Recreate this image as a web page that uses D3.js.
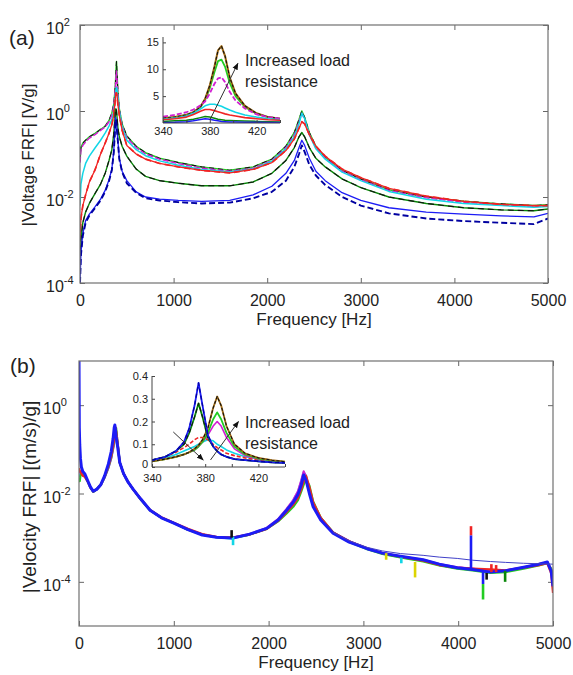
<!DOCTYPE html>
<html>
<head>
<meta charset="utf-8">
<script src="https://cdnjs.cloudflare.com/ajax/libs/d3/7.8.5/d3.min.js"></script>
<style>
  body { margin: 0; background: #fff; }
  svg text { font-family: "Liberation Sans", Arial, sans-serif; fill: #222; }
</style>
</head>
<body>
<script>
const Width = 573;
const Height = 675;

const xTicks = [0, 1000, 2000, 3000, 4000, 5000];
const insetTicks = [340, 360, 380, 400, 420, 440];
const insetLabels = [340, 380, 420];

// ---- panel (a): |Voltage FRF| [V/g], values are log10
const freqA = [0, 10, 30, 60, 100, 160, 220, 270, 310, 340,
               360, 372, 380, 386, 390, 396, 405, 420, 450, 500,
               600, 700, 850, 1050, 1300, 1600, 1850, 2050, 2200, 2290,
               2340, 2370, 2400, 2450, 2520, 2620, 2800, 3000, 3300, 3700,
               4100, 4500, 4850, 5000];
const topA = [-1.15, -0.85, -0.75, -0.68, -0.6, -0.52, -0.43, -0.35, -0.22, -0.05,
              0.15, 0.42, 0.7, 1.0, 1.15, 0.85, 0.45, 0.05, -0.3, -0.58,
              -0.82, -0.97, -1.1, -1.2, -1.3, -1.38, -1.3, -1.12, -0.82, -0.5,
              -0.2, 0.0, -0.15, -0.5, -0.82, -1.08, -1.38, -1.58, -1.83, -2.0,
              -2.1, -2.16, -2.2, -2.18];
const magentaA = [-1.2, -0.9, -0.8, -0.72, -0.63, -0.55, -0.45, -0.37, -0.25, -0.1,
                  0.1, 0.35, 0.6, 0.85, 0.93, 0.7, 0.35, 0.0, -0.35, -0.62,
                  -0.85, -1.0, -1.12, -1.22, -1.33, -1.4, -1.33, -1.15, -0.85, -0.55,
                  -0.25, -0.05, -0.2, -0.55, -0.85, -1.1, -1.4, -1.6, -1.85, -2.02,
                  -2.12, -2.18, -2.22, -2.2];
const cyanA = [-2.2, -1.7, -1.45, -1.22, -1.05, -0.86, -0.68, -0.51, -0.35, -0.2,
               -0.02, 0.2, 0.42, 0.52, 0.55, 0.5, 0.3, 0.0, -0.38, -0.68,
               -0.9, -1.04, -1.16, -1.26, -1.36, -1.42, -1.35, -1.17, -0.88, -0.6,
               -0.3, -0.05, -0.18, -0.55, -0.88, -1.12, -1.42, -1.62, -1.87, -2.05,
               -2.15, -2.2, -2.24, -2.22];
const redA = [-3.0, -2.5, -2.2, -1.95, -1.65, -1.37, -1.0, -0.74, -0.52, -0.32,
              -0.1, 0.15, 0.35, 0.42, 0.42, 0.35, 0.15, -0.1, -0.45, -0.8,
              -1.0, -1.12, -1.22, -1.3, -1.38, -1.44, -1.36, -1.2, -0.92, -0.65,
              -0.4, -0.25, -0.3, -0.55, -0.82, -1.05, -1.35, -1.55, -1.8, -1.98,
              -2.1, -2.17, -2.2, -2.2];
const greenA = [-3.5, -3.0, -2.6, -2.35, -2.15, -1.92, -1.7, -1.44, -1.15, -0.9,
                -0.55, -0.2, 0.05, 0.05, 0.0, -0.15, -0.4, -0.6, -0.82, -1.05,
                -1.35, -1.52, -1.62, -1.68, -1.74, -1.74, -1.65, -1.45, -1.15, -0.85,
                -0.6, -0.5, -0.6, -0.85, -1.1, -1.3, -1.58, -1.78, -2.0, -2.15,
                -2.25, -2.3, -2.32, -2.28];
const blueA = [-4.0, -3.3, -2.85, -2.55, -2.4, -2.23, -2.05, -1.84, -1.6, -1.35,
               -0.95, -0.5, -0.15, -0.2, -0.3, -0.45, -0.7, -1.1, -1.4, -1.62,
               -1.88, -2.0, -2.05, -2.08, -2.1, -2.08, -1.95, -1.75, -1.45, -1.15,
               -0.85, -0.68, -0.8, -1.1, -1.4, -1.62, -1.9, -2.08, -2.25, -2.35,
               -2.4, -2.44, -2.46, -2.38];
const blueDashA = [-4.0, -3.35, -2.9, -2.6, -2.43, -2.26, -2.08, -1.87, -1.63, -1.38,
                   -0.98, -0.55, -0.2, -0.22, -0.32, -0.48, -0.72, -1.12, -1.42, -1.68,
                   -1.9, -2.03, -2.08, -2.12, -2.15, -2.13, -2.03, -1.88, -1.62, -1.3,
                   -1.0, -0.8, -0.95, -1.25, -1.5, -1.72, -2.0, -2.2, -2.38, -2.5,
                   -2.56, -2.6, -2.63, -2.5];

// inset (a), linear |V/g|
const freqIA = [340, 350, 360, 366, 372, 376, 380, 384, 387, 390, 393, 397, 402, 410, 420, 430, 440];
const iaTop = [0.9, 1.1, 1.5, 2.0, 3.0, 4.5, 7.0, 10.5, 13.5, 14.3, 12.5, 8.5, 5.5, 3.2, 1.8, 1.1, 0.8];
const iaLime = [0.9, 1.1, 1.5, 2.0, 3.0, 4.3, 6.5, 9.5, 11.5, 11.8, 10.5, 7.5, 5.0, 3.0, 1.7, 1.1, 0.8];
const iaMagenta = [1.2, 1.5, 2.0, 2.5, 3.3, 4.0, 5.5, 7.3, 8.3, 8.5, 7.6, 5.8, 4.2, 2.7, 1.6, 1.1, 0.8];
const iaCyan = [0.7, 0.9, 1.3, 1.8, 2.6, 3.2, 3.5, 3.5, 3.3, 3.1, 2.8, 2.4, 2.0, 1.5, 1.1, 0.8, 0.6];
const iaRed = [0.6, 0.8, 1.1, 1.6, 2.2, 2.5, 2.5, 2.3, 2.1, 1.9, 1.7, 1.5, 1.3, 1.0, 0.8, 0.6, 0.5];
const iaGreen = [0.3, 0.4, 0.5, 0.7, 1.0, 1.2, 1.1, 0.9, 0.7, 0.6, 0.5, 0.45, 0.4, 0.35, 0.3, 0.25, 0.2];
const iaBlue = [0.1, 0.15, 0.25, 0.4, 0.65, 0.8, 0.7, 0.5, 0.4, 0.3, 0.25, 0.2, 0.17, 0.15, 0.12, 0.1, 0.1];

// ---- panel (b): |Velocity FRF| [(m/s)/g], values are log10
const freqB = [0, 3, 8, 15, 25, 40, 60, 90, 120, 150,
               190, 230, 270, 310, 340, 360, 372, 378, 384, 392,
               405, 430, 470, 520, 570, 650, 750, 870, 1000, 1150,
               1300, 1450, 1620, 1800, 1980, 2100, 2190, 2260, 2310, 2345,
               2370, 2395, 2430, 2470, 2550, 2680, 2850, 3040, 3200, 3390,
               3630, 3800, 3990, 4150, 4340, 4500, 4690, 4850, 4940, 4980,
               5000];
const blueB = [1.0, -0.5, -0.9, -1.2, -1.4, -1.5, -1.55, -1.7, -1.85, -1.95,
               -1.9, -1.8, -1.6, -1.33, -1.05, -0.75, -0.5, -0.45, -0.55, -0.72,
               -0.9, -1.3, -1.55, -1.75, -1.9, -2.12, -2.38, -2.55, -2.67, -2.82,
               -2.94, -2.99, -3.01, -2.92, -2.79, -2.6, -2.38, -2.2, -2.02, -1.8,
               -1.58, -1.7, -2.0, -2.3, -2.6, -2.9, -3.1, -3.25, -3.35, -3.42,
               -3.5, -3.6, -3.68, -3.72, -3.78, -3.75, -3.67, -3.6, -3.55, -3.75,
               -4.1];
const redB = [-1.45, -1.45, -1.5, -1.5, -1.55, -1.6, -1.62, -1.72, -1.86, -1.95,
              -1.9, -1.8, -1.62, -1.38, -1.15, -0.92, -0.75, -0.62, -0.5, -0.6,
              -0.85, -1.3, -1.55, -1.75, -1.9, -2.12, -2.37, -2.54, -2.66, -2.8,
              -2.92, -2.98, -3.0, -2.93, -2.8, -2.62, -2.42, -2.25, -2.1, -1.9,
              -1.72, -1.6, -1.85, -2.2, -2.55, -2.88, -3.08, -3.24, -3.35, -3.43,
              -3.52, -3.62, -3.68, -3.7, -3.72, -3.74, -3.68, -3.62, -3.58, -3.8,
              -4.25];
const limeB = [-1.7, -1.7, -1.72, -1.6, -1.55, -1.58, -1.6, -1.72, -1.86, -1.96,
               -1.9, -1.8, -1.63, -1.4, -1.17, -0.95, -0.78, -0.65, -0.55, -0.52,
               -0.82, -1.3, -1.55, -1.75, -1.9, -2.13, -2.38, -2.55, -2.67, -2.82,
               -2.93, -2.99, -3.0, -2.93, -2.8, -2.63, -2.45, -2.3, -2.15, -1.95,
               -1.8, -1.68, -1.82, -2.18, -2.55, -2.88, -3.1, -3.26, -3.37, -3.45,
               -3.54, -3.63, -3.7, -3.74, -3.8, -3.78, -3.7, -3.63, -3.58, -3.7,
               -3.9];
const magentaB = [-1.5, -1.5, -1.52, -1.5, -1.52, -1.55, -1.6, -1.72, -1.86, -1.96,
                  -1.9, -1.8, -1.64, -1.42, -1.2, -0.98, -0.82, -0.7, -0.62, -0.58,
                  -0.8, -1.3, -1.55, -1.75, -1.9, -2.13, -2.38, -2.55, -2.67, -2.82,
                  -2.93, -2.99, -3.0, -2.92, -2.78, -2.58, -2.35, -2.15, -1.95, -1.7,
                  -1.5, -1.62, -1.95, -2.25, -2.57, -2.88, -3.08, -3.25, -3.35, -3.42,
                  -3.5, -3.6, -3.67, -3.7, -3.76, -3.74, -3.67, -3.6, -3.56, -3.7,
                  -3.95];
const cyanB = [-1.6, -1.6, -1.6, -1.55, -1.52, -1.55, -1.6, -1.72, -1.86, -1.96,
               -1.9, -1.8, -1.64, -1.42, -1.2, -0.98, -0.85, -0.78, -0.72, -0.7,
               -0.85, -1.3, -1.55, -1.75, -1.9, -2.13, -2.38, -2.55, -2.67, -2.82,
               -2.93, -2.99, -3.02, -2.93, -2.79, -2.59, -2.36, -2.16, -1.96, -1.72,
               -1.52, -1.6, -1.92, -2.24, -2.56, -2.88, -3.08, -3.25, -3.36, -3.44,
               -3.52, -3.62, -3.69, -3.72, -3.78, -3.76, -3.68, -3.61, -3.57, -3.72,
               -4.0];
// model curve that stays above the measured data at high frequency
const freqModelB = [2680, 2850, 3040, 3200, 3390, 3630, 3800, 3990, 4150, 4340, 4500, 4690, 4850, 5000];
const modelB = [-2.88, -3.07, -3.22, -3.3, -3.36, -3.4, -3.44, -3.47, -3.51, -3.54, -3.56, -3.58, -3.59, -3.6];

// short vertical glitches in the measured data
const spikeFreq = [4135, 4135, 4262, 4262, 3545, 3400, 1625, 1610, 3240, 4495, 4350, 4400, 4300];
const spikeLo = [-2.95, -3.72, -4.05, -4.4, -3.9, -3.58, -3.17, -3.0, -3.5, -4.0, -3.78, -3.78, -3.95];
const spikeHi = [-2.74, -2.95, -3.78, -4.05, -3.55, -3.45, -2.98, -2.83, -3.35, -3.75, -3.6, -3.62, -3.8];
const spikeKey = ['red', 'blue', 'blue', 'lime', 'yellow', 'cyan', 'cyan', 'black', 'yellow', 'green', 'red', 'red', 'black'];

// inset (b), linear |(m/s)/g|
const freqIB = [340, 350, 358, 364, 368, 372, 375, 378, 382, 386, 389, 392, 396, 402, 410, 420, 430, 440];
const ibBlue = [0.03, 0.045, 0.07, 0.11, 0.17, 0.27, 0.37, 0.27, 0.14, 0.09, 0.07, 0.055, 0.045, 0.035, 0.03, 0.025, 0.02, 0.018];
const ibGreen = [0.03, 0.045, 0.07, 0.1, 0.15, 0.22, 0.28, 0.22, 0.13, 0.09, 0.07, 0.055, 0.045, 0.035, 0.03, 0.025, 0.02, 0.018];
const ibRed = [0.03, 0.045, 0.065, 0.085, 0.1, 0.12, 0.13, 0.13, 0.12, 0.1, 0.085, 0.075, 0.06, 0.05, 0.04, 0.03, 0.025, 0.02];
const ibCyan = [0.03, 0.04, 0.055, 0.07, 0.08, 0.09, 0.1, 0.11, 0.12, 0.115, 0.1, 0.09, 0.075, 0.06, 0.045, 0.035, 0.028, 0.022];
const ibMagenta = [0.025, 0.035, 0.045, 0.055, 0.065, 0.075, 0.09, 0.11, 0.14, 0.18, 0.2, 0.18, 0.13, 0.08, 0.05, 0.035, 0.028, 0.022];
const ibLime = [0.025, 0.035, 0.045, 0.055, 0.065, 0.075, 0.09, 0.11, 0.15, 0.21, 0.24, 0.21, 0.15, 0.09, 0.055, 0.037, 0.028, 0.022];
const ibTop = [0.025, 0.035, 0.045, 0.055, 0.065, 0.08, 0.095, 0.12, 0.17, 0.26, 0.31, 0.27, 0.18, 0.1, 0.06, 0.04, 0.03, 0.023];

const color = d3.scaleOrdinal()
  .domain(['blue', 'navy', 'green', 'red', 'cyan', 'magenta', 'lime', 'black', 'yellow', 'brown', 'model'])
  .range(['#1c1cf5', '#0000a0', '#0a880a', '#f02424', '#12d6e6', '#d21ed2', '#22cc22', '#111111', '#dcd400', '#a06a14', '#4040c8']);

const svg = d3.select('body')
  .append('svg')
    .attr('width', Width)
    .attr('height', Height);

svg.append('defs').append('marker')
  .attr('id', 'arrow')
  .attr('viewBox', '0 0 10 10')
  .attr('refX', 9).attr('refY', 5)
  .attr('markerWidth', 7).attr('markerHeight', 7)
  .attr('orient', 'auto')
  .append('path')
    .attr('d', 'M0,1L10,5L0,9z')
    .attr('fill', '#111');

let clipId = 0;
const clipped = (g, x0, y0, w, h) => {
  const id = 'clip' + (clipId++);
  svg.select('defs').append('clipPath').attr('id', id)
    .append('rect').attr('x', x0).attr('y', y0).attr('width', w).attr('height', h);
  return g.append('g').attr('clip-path', `url(#${id})`);
};

const drawSeries = (g, freq, list, x, y, logValues) => {
  list.forEach(s => {
    const line = d3.line()
      .x((d, i) => x(freq[i]))
      .y(d => y(logValues ? Math.pow(10, d) : d));
    g.append('path')
      .datum(s.values)
      .attr('fill', 'none')
      .attr('stroke', color(s.key))
      .attr('stroke-width', s.w)
      .attr('stroke-dasharray', s.dash || null)
      .attr('stroke-linejoin', 'round')
      .attr('d', line);
  });
};

const styleAxis = (sel, size) => {
  sel.select('.domain').remove();
  sel.selectAll('.tick line').attr('stroke', '#666');
  sel.selectAll('.tick text').style('font-size', size + 'px').attr('fill', '#222');
};

// main log-scale panel
const drawPanel = cfg => {
  const x = d3.scaleLinear().domain([0, 5000]).range([cfg.left, cfg.right]);
  const y = d3.scaleLog().domain(cfg.yDomain).range([cfg.bottom, cfg.top]);
  const g = svg.append('g');

  g.append('g').attr('transform', `translate(0,${cfg.bottom})`)
    .call(d3.axisBottom(x).tickValues(xTicks).tickSize(-5).tickPadding(12).tickFormat(d3.format('d')))
    .call(styleAxis, 16);
  g.append('g').attr('transform', `translate(0,${cfg.top})`)
    .call(d3.axisTop(x).tickValues(xTicks).tickSize(-5).tickFormat(''))
    .call(styleAxis, 16);
  g.append('g').attr('transform', `translate(${cfg.left},0)`)
    .call(d3.axisLeft(y).tickValues(cfg.yTicks).tickSize(-5).tickFormat(''))
    .call(styleAxis, 16);
  g.append('g').attr('transform', `translate(${cfg.right},0)`)
    .call(d3.axisRight(y).tickValues(cfg.yTicks).tickSize(-5).tickFormat(''))
    .call(styleAxis, 16);

  // decade labels 10^n
  cfg.yTicks.forEach(t => {
    const txt = g.append('text')
      .attr('x', cfg.labelX)
      .attr('y', y(t) + 9)
      .style('font-size', '16px');
    txt.append('tspan').text('10');
    txt.append('tspan').attr('dy', -8).style('font-size', '11px').text(Math.round(Math.log10(t)));
  });

  const plot = clipped(g, cfg.left, cfg.top, cfg.right - cfg.left, cfg.bottom - cfg.top);

  g.append('rect')
    .attr('x', cfg.left).attr('y', cfg.top)
    .attr('width', cfg.right - cfg.left).attr('height', cfg.bottom - cfg.top)
    .attr('fill', 'none').attr('stroke', '#707070').attr('stroke-width', 1.2);

  g.append('text')
    .attr('x', (cfg.left + cfg.right) / 2).attr('y', cfg.bottom + 42)
    .attr('text-anchor', 'middle').style('font-size', '17px')
    .text('Frequency [Hz]');
  g.append('text')
    .attr('transform', `translate(${cfg.titleX},${cfg.titleY}) rotate(-90)`)
    .attr('text-anchor', 'middle').style('font-size', cfg.titleSize + 'px')
    .text(cfg.title);
  g.append('text')
    .attr('x', cfg.tagX).attr('y', cfg.tagY)
    .style('font-size', '21px')
    .text(cfg.tag);

  return { x, y, plot, g };
};

// small linear inset with arrows and note
const drawInset = cfg => {
  const x = d3.scaleLinear().domain([340, 440]).range([cfg.left, cfg.right]);
  const y = d3.scaleLinear().domain(cfg.yDomain).range([cfg.bottom, cfg.top]);
  const g = svg.append('g');
  const plot = clipped(g, cfg.left, cfg.top - 4, cfg.right - cfg.left + 2, cfg.bottom - cfg.top + 4);
  drawSeries(plot, cfg.freq, cfg.series, x, y, false);

  const xa = g.append('g').attr('transform', `translate(0,${cfg.bottom})`)
    .call(d3.axisBottom(x).tickValues(insetTicks).tickSize(-3).tickPadding(cfg.xPad)
      .tickFormat(d => insetLabels.includes(d) ? d : ''));
  xa.select('.domain').attr('stroke', '#444').attr('d', `M${cfg.left},0H${cfg.right}`);
  xa.selectAll('.tick line').attr('stroke', '#444');
  xa.selectAll('.tick text').style('font-size', '11px').attr('fill', '#333');

  const ya = g.append('g').attr('transform', `translate(${cfg.left},0)`)
    .call(d3.axisLeft(y).tickValues(cfg.yTicks).tickSize(-3).tickPadding(4).tickFormat(cfg.yFormat));
  ya.select('.domain').attr('stroke', '#444').attr('d', `M0,${cfg.top}V${cfg.bottom}`);
  ya.selectAll('.tick line').attr('stroke', '#444');
  ya.selectAll('.tick text').style('font-size', '11px').attr('fill', '#333');
  // the "0" label sits just above the first x label
  ya.selectAll('.tick text').filter(d => d === 0).attr('y', -3);

  cfg.arrows.forEach(a => {
    g.append('line')
      .attr('x1', x(a[0])).attr('y1', y(a[1]))
      .attr('x2', x(a[2])).attr('y2', y(a[3]))
      .attr('stroke', '#333').attr('stroke-width', 1)
      .attr('marker-end', 'url(#arrow)');
  });

  g.append('text').attr('x', cfg.noteX).attr('y', cfg.noteY).style('font-size', '16px').text('Increased load');
  g.append('text').attr('x', cfg.noteX).attr('y', cfg.noteY + 21).style('font-size', '16px').text('resistance');
};

// ---------- panel (a)
const A = drawPanel({
  left: 80, right: 548, top: 25, bottom: 283,
  yDomain: [1e-4, 1e2], yTicks: [1e-4, 1e-2, 1, 1e2],
  labelX: 46, title: '|Voltage FRF| [V/g]', titleX: 34, titleY: 155, titleSize: 17,
  tag: '(a)', tagX: 9, tagY: 45
});
drawSeries(A.plot, freqA, [
  { key: 'lime', values: topA, w: 1.5 },
  { key: 'black', values: topA, w: 1.1, dash: '5,4' },
  { key: 'magenta', values: magentaA, w: 1.5, dash: '6,2' },
  { key: 'cyan', values: cyanA, w: 1.5 },
  { key: 'red', values: redA, w: 1.3 },
  { key: 'red', values: redA, w: 1.7, dash: '6,4' },
  { key: 'green', values: greenA, w: 1.4 },
  { key: 'black', values: greenA, w: 1.1, dash: '6,4' },
  { key: 'blue', values: blueA, w: 1.3 },
  { key: 'navy', values: blueDashA, w: 1.9, dash: '6,3' }
], A.x, A.y, true);

drawInset({
  left: 163, right: 280, top: 37, bottom: 123, xPad: 4,
  yDomain: [0, 16], yTicks: [5, 10, 15], yFormat: d3.format('d'),
  freq: freqIA,
  series: [
    { key: 'lime', values: iaLime, w: 1.8 },
    { key: 'brown', values: iaTop, w: 2 },
    { key: 'black', values: iaTop, w: 1.1, dash: '3,2' },
    { key: 'magenta', values: iaMagenta, w: 1.8, dash: '5,2' },
    { key: 'cyan', values: iaCyan, w: 1.6 },
    { key: 'red', values: iaRed, w: 1.6 },
    { key: 'green', values: iaGreen, w: 1.5 },
    { key: 'blue', values: iaBlue, w: 1.5 }
  ],
  arrows: [[380, 0.55, 404, 11.1]],
  noteX: 245, noteY: 66
});

// ---------- panel (b)
const B = drawPanel({
  left: 79, right: 553, top: 361, bottom: 626,
  yDomain: [1e-5, 10], yTicks: [1e-4, 1e-2, 1],
  labelX: 43, title: '|Velocity FRF| [(m/s)/g]', titleX: 36, titleY: 497, titleSize: 19,
  tag: '(b)', tagX: 10, tagY: 373
});
drawSeries(B.plot, freqB, [
  { key: 'cyan', values: cyanB, w: 2.2 },
  { key: 'magenta', values: magentaB, w: 2.2 },
  { key: 'lime', values: limeB, w: 2.2 },
  { key: 'red', values: redB, w: 2.2 },
  { key: 'blue', values: blueB, w: 3 }
], B.x, B.y, true);
drawSeries(B.plot, freqModelB, [{ key: 'model', values: modelB, w: 1 }], B.x, B.y, true);

B.plot.selectAll('.spike')
  .data(spikeFreq)
  .join('line')
    .attr('class', 'spike')
    .attr('x1', d => B.x(d)).attr('x2', d => B.x(d))
    .attr('y1', (d, i) => B.y(Math.pow(10, spikeLo[i])))
    .attr('y2', (d, i) => B.y(Math.pow(10, spikeHi[i])))
    .attr('stroke', (d, i) => color(spikeKey[i]))
    .attr('stroke-width', 2.6);

drawInset({
  left: 152, right: 285, top: 376, bottom: 467, xPad: 7,
  yDomain: [0, 0.4], yTicks: [0, 0.1, 0.2, 0.3, 0.4], yFormat: d => d === 0 ? '0' : d3.format('.1f')(d),
  freq: freqIB,
  series: [
    { key: 'cyan', values: ibCyan, w: 1.6 },
    { key: 'red', values: ibRed, w: 1.6, dash: '4,2' },
    { key: 'magenta', values: ibMagenta, w: 1.6 },
    { key: 'lime', values: ibLime, w: 1.8 },
    { key: 'brown', values: ibTop, w: 1.8 },
    { key: 'black', values: ibTop, w: 1.1, dash: '3,2' },
    { key: 'green', values: ibGreen, w: 1.8 },
    { key: 'black', values: ibGreen, w: 1.1, dash: '4,3' },
    { key: 'blue', values: ibBlue, w: 1.8 },
    { key: 'navy', values: ibBlue, w: 1.3, dash: '4,3' }
  ],
  arrows: [[356, 0.154, 378.5, 0.031], [384, 0.031, 405, 0.2]],
  noteX: 245, noteY: 428
});
</script>
</body>
</html>
